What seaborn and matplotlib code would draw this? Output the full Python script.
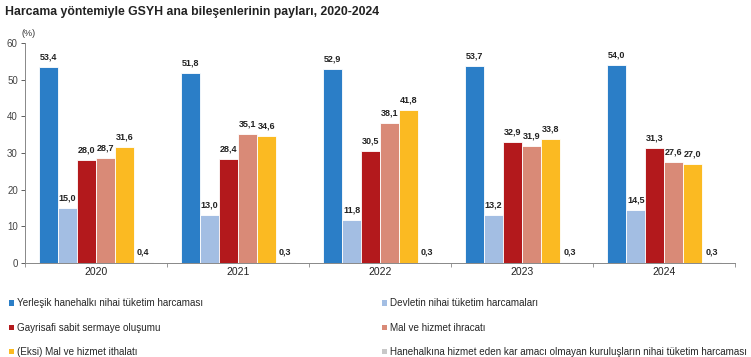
import matplotlib
matplotlib.use("Agg")
import matplotlib.pyplot as plt
import pandas as pd
import seaborn as sns
from matplotlib.patches import Patch

years = ["2020", "2021", "2022", "2023", "2024"]
components = [
    "Yerleşik hanehalkı nihai tüketim harcaması",
    "Devletin nihai tüketim harcamaları",
    "Gayrisafi sabit sermaye oluşumu",
    "Mal ve hizmet ihracatı",
    "(Eksi) Mal ve hizmet ithalatı",
    "Hanehalkına hizmet eden kar amacı olmayan kuruluşların nihai tüketim harcaması",
]
hanehalki = [53.4, 51.8, 52.9, 53.7, 54.0]
devlet = [15.0, 13.0, 11.8, 13.2, 14.5]
gsso = [28.0, 28.4, 30.5, 32.9, 31.3]
ihracat = [28.7, 35.1, 38.1, 31.9, 27.6]
ithalat = [31.6, 34.6, 41.8, 33.8, 27.0]
hhkoo = [0.4, 0.3, 0.3, 0.3, 0.3]
colors = ["#2b7ec7", "#a3bee3", "#b3191c", "#d98a77", "#fbba22", "#c8c8c8"]

series = [hanehalki, devlet, gsso, ihracat, ithalat, hhkoo]
rows = []
for comp, vals in zip(components, series):
    for yr, v in zip(years, vals):
        rows.append({"year": yr, "component": comp, "value": v})
df = pd.DataFrame(rows)

sns.set_style("white")
plt.rcParams["font.family"] = ["Liberation Sans", "DejaVu Sans"]

fig = plt.figure(figsize=(7.51, 3.57), dpi=100)
ax = fig.add_axes([0.033, 0.263, 0.946, 0.617])

sns.barplot(
    data=df, x="year", y="value", hue="component", hue_order=components,
    order=years, palette=colors, width=0.8, saturation=1, legend=False, ax=ax,
    edgecolor="white", linewidth=0.6,
)

for cont in ax.containers:
    labels = [f"{b.get_height():.1f}".replace(".", ",") for b in cont]
    ax.bar_label(cont, labels=labels, padding=4, fontsize=6.5,
                 fontweight="bold", color="#222222")

ax.set_ylim(0, 60)
ax.set_yticks(range(0, 61, 10))
ax.set_xlim(-0.5, 4.5)
ax.set_xlabel("")
ax.set_ylabel("")
ax.tick_params(axis="y", labelsize=7, colors="#444444", length=3, width=0.6,
               direction="out", left=True, pad=2)
ax.tick_params(axis="x", which="major", labelsize=7.5, colors="#222222",
               length=0, pad=3)
ax.set_xticks([i - 0.5 for i in range(6)], minor=True)
ax.tick_params(axis="x", which="minor", length=3, width=0.6, color="#888888",
               direction="out", bottom=True)
for s in ["top", "right"]:
    ax.spines[s].set_visible(False)
for s in ["left", "bottom"]:
    ax.spines[s].set_color("#888888")
    ax.spines[s].set_linewidth(0.7)

fig.text(0.007, 0.965, "Harcama yöntemiyle GSYH ana bileşenlerinin payları, 2020-2024",
         fontsize=8.8, fontweight="bold", color="#222222", va="center")
fig.text(0.029, 0.905, "(%)", fontsize=6.5, color="#333333", va="center")

handles = [Patch(facecolor=c, edgecolor="none") for c in colors]
legend_kw = dict(loc="upper left", ncol=1, frameon=False, fontsize=7.1,
                 handlelength=0.45, handleheight=0.45, handletextpad=0.3,
                 labelspacing=1.45, borderaxespad=0)
fig.legend([handles[i] for i in (0, 2, 4)], [components[i] for i in (0, 2, 4)],
           bbox_to_anchor=(0.007, 0.175), **legend_kw)
fig.legend([handles[i] for i in (1, 3, 5)], [components[i] for i in (1, 3, 5)],
           bbox_to_anchor=(0.504, 0.175), **legend_kw)

fig.savefig("out.png", dpi=100)
